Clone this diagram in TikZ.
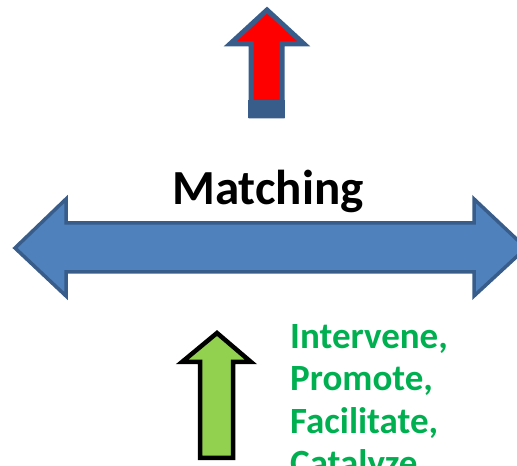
\documentclass[tikz,border=0pt]{standalone}
\usepackage{fontspec}
\setmainfont{Carlito}
\usepackage{tikz}
\usetikzlibrary{positioning}

\definecolor{OfficeBlue}{HTML}{4F81BD}
\definecolor{OfficeEdge}{HTML}{385D8A}
\definecolor{LeafGreen}{HTML}{92D050}
\definecolor{TextGreen}{HTML}{00B050}

\begin{document}
\begin{tikzpicture}[x=1pt,y=1pt]
			\tikzstyle{BlockArrow}	= [line join=miter, miter limit=10]
			\tikzstyle{UpRed}	= [BlockArrow, fill=red, draw=OfficeEdge, line width=5pt]
			\tikzstyle{Both}	= [BlockArrow, fill=OfficeBlue, draw=OfficeEdge, line width=3.5pt]
			\tikzstyle{UpGreen}	= [BlockArrow, fill=LeafGreen, draw=black, line width=4.5pt]
			\tikzstyle{Title}	= [inner sep=0pt, font=\fontsize{49}{55}\selectfont\bfseries]
			\tikzstyle{Verbs}	= [inner sep=0pt, align=left, text=TextGreen, font=\fontsize{37}{42.5}\selectfont\bfseries]

			\useasboundingbox (0,0) rectangle (517,466);

			% red arrow on top
			\draw [UpRed] (267,456) -- (304,422) -- (282,422) -- (282,350)
				-- (251,350) -- (251,422) -- (230,422) -- cycle;
			\fill [OfficeEdge] (248,348) rectangle (285,366);

			% two-headed arrow
			\draw [Both] (15,218) -- (66,267) -- (66,243) -- (474,243) -- (474,267)
				-- (526,218) -- (474,170) -- (474,194) -- (66,194) -- (66,170) -- cycle;

			% green arrow below
			\draw [UpGreen] (217,133) -- (251,104) -- (233,104) -- (233,8)
				-- (200,8) -- (200,104) -- (182,104) -- cycle;

			\node (matching) [Title, anchor=base] at (268,261) {Matching};
			\node (verbs) [Verbs, anchor=north west] at (290,142)
				{Intervene,\\Promote,\\Facilitate,\\Catalyze};
		\end{tikzpicture}
\end{document}
